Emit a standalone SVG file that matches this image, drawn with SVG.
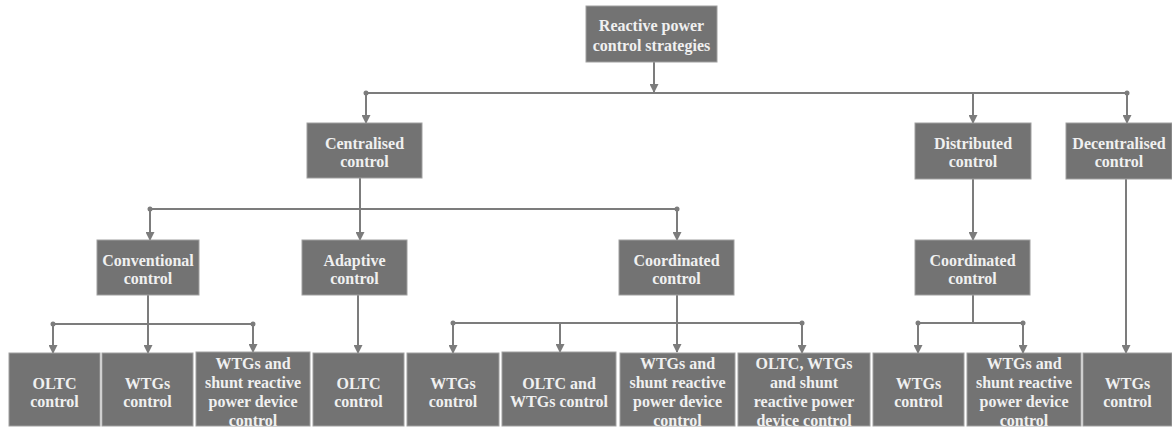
<svg xmlns="http://www.w3.org/2000/svg" width="1172" height="429" viewBox="0 0 1172 429">
<defs>
<style>
.box{fill:#737373;stroke:#a0a0a0;stroke-width:1}
.t{font-family:"Liberation Serif","Times New Roman",serif;font-weight:bold;font-size:16px;fill:#f0f0f0;text-anchor:middle}
.ln{stroke:#7c7c7c;stroke-width:2;fill:none}
.ar{stroke:#7c7c7c;stroke-width:2;fill:none;marker-end:url(#ah)}
.dot{fill:#7c7c7c}
</style>
<marker id="ah" markerWidth="9" markerHeight="9" refX="8" refY="4.5" orient="auto" markerUnits="userSpaceOnUse">
<path d="M0,0 L9,4.5 L0,9 z" fill="#7c7c7c"/>
</marker>
</defs>
<rect width="1172" height="429" fill="#ffffff"/>
<g id="connectors">
<line class="ar" x1="654" y1="62" x2="654" y2="92"/>
<line class="ln" x1="366" y1="93" x2="1127" y2="93"/>
<circle class="dot" cx="366" cy="93" r="2.5"/>
<circle class="dot" cx="1127" cy="93" r="2.5"/>
<line class="ar" x1="366" y1="93" x2="366" y2="123"/>
<line class="ar" x1="973" y1="93" x2="973" y2="123"/>
<line class="ar" x1="1127" y1="93" x2="1127" y2="123"/>
<line class="ln" x1="360" y1="178" x2="360" y2="209"/>
<line class="ln" x1="150" y1="209" x2="677" y2="209"/>
<circle class="dot" cx="150" cy="209" r="2.5"/>
<circle class="dot" cx="677" cy="209" r="2.5"/>
<line class="ar" x1="150" y1="209" x2="150" y2="240"/>
<line class="ar" x1="360" y1="209" x2="360" y2="240"/>
<line class="ar" x1="677" y1="209" x2="677" y2="240"/>
<line class="ar" x1="148" y1="295" x2="148" y2="353"/>
<line class="ln" x1="53" y1="324" x2="253" y2="324"/>
<circle class="dot" cx="53" cy="324" r="2.5"/>
<circle class="dot" cx="253" cy="324" r="2.5"/>
<line class="ar" x1="53" y1="324" x2="53" y2="353"/>
<line class="ar" x1="253" y1="324" x2="253" y2="352"/>
<line class="ar" x1="358" y1="295" x2="358" y2="353"/>
<line class="ar" x1="677" y1="295" x2="677" y2="352"/>
<line class="ln" x1="453" y1="323" x2="802" y2="323"/>
<circle class="dot" cx="453" cy="323" r="2.5"/>
<circle class="dot" cx="802" cy="323" r="2.5"/>
<line class="ar" x1="453" y1="323" x2="453" y2="353"/>
<line class="ar" x1="560" y1="323" x2="560" y2="352"/>
<line class="ar" x1="802" y1="323" x2="802" y2="353"/>
<line class="ar" x1="973" y1="179" x2="973" y2="240"/>
<line class="ln" x1="973" y1="295" x2="973" y2="323"/>
<line class="ln" x1="918" y1="323" x2="1023" y2="323"/>
<circle class="dot" cx="918" cy="323" r="2.5"/>
<circle class="dot" cx="1023" cy="323" r="2.5"/>
<line class="ar" x1="918" y1="323" x2="918" y2="353"/>
<line class="ar" x1="1023" y1="323" x2="1023" y2="353"/>
<line class="ar" x1="1126" y1="179" x2="1126" y2="353"/>
</g>
<g id="root"><rect class="box" x="586" y="6" width="131" height="56"/><text class="t" x="651.5" y="31">Reactive power</text><text class="t" x="651.5" y="51">control strategies</text></g>
<g id="centralised"><rect class="box" x="307" y="123" width="115" height="55"/><text class="t" x="364.5" y="149">Centralised</text><text class="t" x="364.5" y="167">control</text></g>
<g id="distributed"><rect class="box" x="915" y="123" width="116" height="56"/><text class="t" x="973" y="149">Distributed</text><text class="t" x="973" y="167">control</text></g>
<g id="decentralised"><rect class="box" x="1066" y="123" width="106" height="56"/><text class="t" x="1119" y="149">Decentralised</text><text class="t" x="1119" y="167">control</text></g>
<g id="conventional"><rect class="box" x="97" y="240" width="102" height="55"/><text class="t" x="148" y="266">Conventional</text><text class="t" x="148" y="284">control</text></g>
<g id="adaptive"><rect class="box" x="302" y="240" width="105" height="55"/><text class="t" x="354.5" y="266">Adaptive</text><text class="t" x="354.5" y="284">control</text></g>
<g id="coordinated1"><rect class="box" x="619" y="240" width="115" height="55"/><text class="t" x="676.5" y="266">Coordinated</text><text class="t" x="676.5" y="284">control</text></g>
<g id="coordinated2"><rect class="box" x="915" y="240" width="115" height="55"/><text class="t" x="972.5" y="266">Coordinated</text><text class="t" x="972.5" y="284">control</text></g>
<g id="b1"><rect class="box" x="9" y="353" width="91" height="73"/><text class="t" x="54.5" y="389">OLTC</text><text class="t" x="54.5" y="407">control</text></g>
<g id="b2"><rect class="box" x="102" y="353" width="91" height="73"/><text class="t" x="147.5" y="389">WTGs</text><text class="t" x="147.5" y="407">control</text></g>
<g id="b3"><rect class="box" x="196" y="352" width="114" height="74"/><text class="t" x="253" y="369">WTGs and</text><text class="t" x="253" y="388">shunt reactive</text><text class="t" x="253" y="407">power device</text><text class="t" x="253" y="426">control</text></g>
<g id="b4"><rect class="box" x="313" y="353" width="91" height="73"/><text class="t" x="358.5" y="389">OLTC</text><text class="t" x="358.5" y="407">control</text></g>
<g id="b5"><rect class="box" x="407" y="353" width="92" height="73"/><text class="t" x="453" y="389">WTGs</text><text class="t" x="453" y="407">control</text></g>
<g id="b6"><rect class="box" x="502" y="352" width="114" height="74"/><text class="t" x="559" y="389">OLTC and</text><text class="t" x="559" y="407">WTGs control</text></g>
<g id="b7"><rect class="box" x="620" y="353" width="115" height="73"/><text class="t" x="677.5" y="369">WTGs and</text><text class="t" x="677.5" y="388">shunt reactive</text><text class="t" x="677.5" y="407">power device</text><text class="t" x="677.5" y="426">control</text></g>
<g id="b8"><rect class="box" x="738" y="353" width="132" height="73"/><text class="t" x="804" y="369">OLTC, WTGs</text><text class="t" x="804" y="388">and shunt</text><text class="t" x="804" y="407">reactive power</text><text class="t" x="804" y="426">device control</text></g>
<g id="b9"><rect class="box" x="873" y="353" width="91" height="73"/><text class="t" x="918.5" y="389">WTGs</text><text class="t" x="918.5" y="407">control</text></g>
<g id="b10"><rect class="box" x="967" y="353" width="114" height="73"/><text class="t" x="1024" y="369">WTGs and</text><text class="t" x="1024" y="388">shunt reactive</text><text class="t" x="1024" y="407">power device</text><text class="t" x="1024" y="426">control</text></g>
<g id="b11"><rect class="box" x="1083" y="353" width="89" height="73"/><text class="t" x="1127.5" y="389">WTGs</text><text class="t" x="1127.5" y="407">control</text></g>
</svg>
